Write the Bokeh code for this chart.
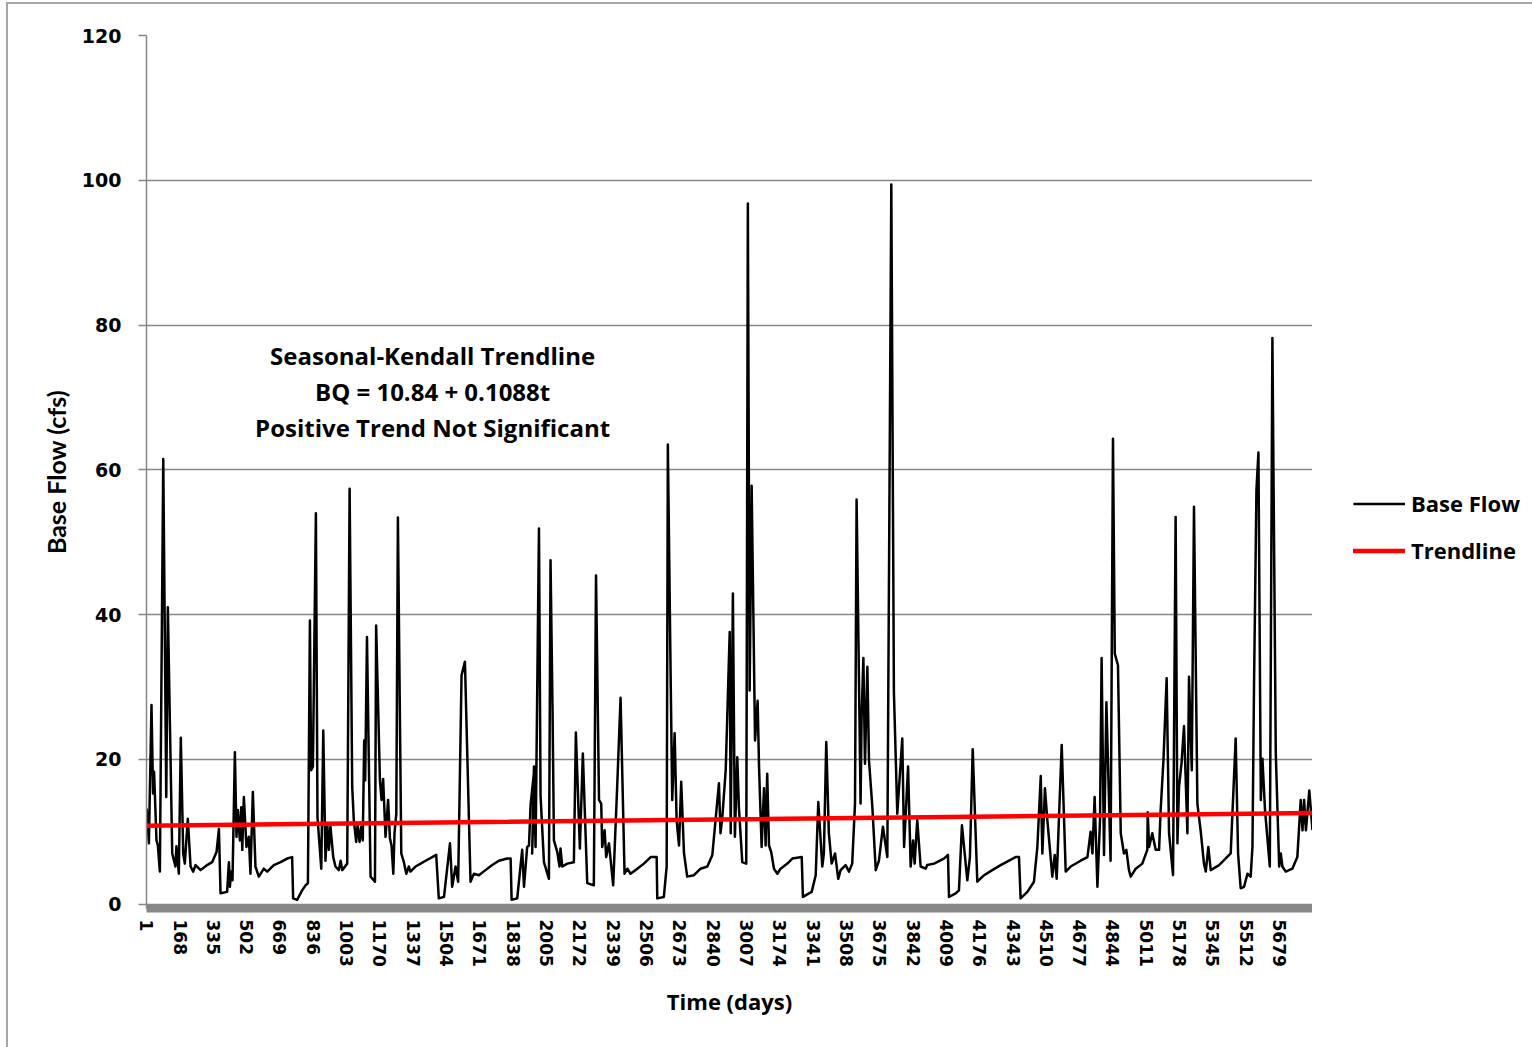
from bokeh.plotting import figure
from bokeh.layouts import row
from bokeh.models import Range1d, FixedTicker, Legend, LegendItem, Label
from bokeh.embed import file_html
from bokeh.resources import INLINE

# Daily base flow record (16 years), sampled at the turning points of the hydrograph
N_DAYS = 5844

flow_day = [
    1, 12, 25, 33, 38, 50, 57, 67, 84, 99, 107, 129, 145, 150, 162, 172, 184, 192, 207, 221,
    234, 246, 271, 304, 329, 351, 363, 371, 404, 413, 418, 424, 431, 443, 451, 458, 468, 475, 480, 488,
    501, 513, 521, 533, 546, 563, 588, 605, 638, 672, 705, 730, 735, 755, 780, 797, 809, 819, 825, 834,
    849, 857, 876, 886, 897, 906, 914, 922, 936, 947, 964, 973,
    981, 1006, 1018, 1031, 1039, 1051, 1058, 1068, 1076, 1084, 1091, 1096, 1105, 1123, 1145, 1151, 1170, 1178,
    1186, 1198, 1211, 1220, 1228, 1237, 1243, 1252, 1260, 1277, 1290, 1302, 1315, 1323, 1348, 1374, 1399, 1432,
    1452, 1465, 1491, 1521, 1532, 1549, 1562, 1579, 1596, 1624, 1641, 1666, 1699, 1733, 1766, 1808, 1825, 1830,
    1858, 1883, 1892, 1908, 1917, 1925, 1945,
    1933, 1942, 1950, 1967, 1975, 1992, 2017, 2025, 2035, 2042, 2059, 2070, 2075, 2084, 2109, 2142, 2152, 2172,
    2187, 2209, 2242, 2253, 2268, 2279, 2284, 2296, 2304, 2318, 2339, 2359, 2376, 2396, 2410, 2426, 2460, 2493,
    2527, 2557, 2560, 2593, 2607, 2613, 2627, 2635, 2647, 2657, 2669, 2680, 2694, 2710, 2744, 2777, 2811, 2836,
    2869, 2877, 2886, 2903, 2923,
    2928, 2939, 2949, 2961, 2969, 2986, 3006, 3014, 3023, 3033, 3050, 3063, 3070, 3083, 3095, 3103, 3111, 3120,
    3131, 3145, 3162, 3178, 3212, 3237, 3284, 3290, 3334, 3354, 3367, 3387, 3395, 3407, 3420, 3434, 3451, 3467,
    3479, 3504, 3521, 3537, 3551, 3559, 3579, 3584, 3593, 3601, 3613, 3621, 3638, 3655, 3671, 3691, 3713, 3733,
    3746, 3763, 3788, 3797, 3817, 3830, 3842, 3850, 3863, 3880, 3905,
    3913, 3947, 3997, 4017, 4022, 4056, 4072, 4087, 4114, 4127, 4141, 4164, 4198, 4239, 4281, 4356, 4373, 4381,
    4415, 4448, 4465, 4482, 4490, 4503, 4515, 4540, 4552, 4562, 4587, 4607, 4632, 4682, 4716, 4732, 4741, 4752,
    4766, 4779, 4787, 4799, 4811, 4832, 4844, 4853, 4869,
    4883, 4899, 4911, 4924, 4933, 4958, 4991, 5016, 5018, 5025, 5041, 5058, 5075, 5083, 5097, 5113, 5125, 5145,
    5158, 5167, 5175, 5188, 5200, 5217, 5225, 5239, 5250, 5267, 5284, 5300, 5309, 5322, 5334, 5376, 5434, 5459,
    5471, 5484, 5501, 5518, 5534, 5543, 5551, 5563, 5573, 5585, 5593, 5606, 5630, 5643, 5660, 5677, 5685, 5693,
    5710, 5743, 5768, 5785, 5794, 5802, 5811, 5828, 5844,
]

flow_cfs = [
    13.2, 8.4, 27.5, 15.3, 18.3, 8.8, 8.1, 4.5, 61.5, 14.8, 41.0, 7.0, 5.2, 8.0, 4.2, 23.0, 7.0, 5.6, 11.8, 5.2,
    4.5, 5.4, 4.7, 5.4, 5.8, 7.2, 10.4, 1.5, 1.7, 5.8, 2.4, 4.5, 3.3, 21.0, 9.3, 13.0, 8.8, 13.4, 7.5, 14.8,
    7.9, 9.3, 4.2, 15.5, 5.2, 3.8, 4.9, 4.5, 5.4, 5.8, 6.3, 6.5, 0.8, 0.6, 1.9, 2.6, 2.9, 39.2, 18.5, 19.0,
    54.0, 12.0, 4.9, 24.0, 6.0, 11.0, 7.5, 10.7, 6.5, 5.2, 4.7, 6.0,
    4.7, 5.6, 57.4, 16.2, 11.6, 8.6, 10.9, 8.6, 10.7, 8.8, 22.6, 17.1, 36.9, 3.8, 3.1, 38.5, 17.1, 14.4,
    17.3, 9.3, 14.4, 9.1, 8.1, 4.2, 9.8, 12.5, 53.4, 7.0, 5.8, 4.2, 5.2, 4.5, 5.2, 5.6, 6.0, 6.5,
    6.8, 0.8, 1.0, 8.4, 2.4, 5.2, 3.1, 31.6, 33.5, 3.1, 4.2, 4.0, 4.7, 5.4, 6.0, 6.3, 6.3, 0.6,
    0.8, 7.5, 2.4, 7.9, 8.1, 13.7, 19.0,
    7.0, 19.0, 7.9, 51.9, 15.0, 5.8, 3.5, 47.5, 27.0, 8.8, 7.2, 5.2, 7.7, 5.2, 5.6, 5.8, 23.7, 7.7,
    20.8, 2.9, 2.6, 45.4, 14.4, 13.9, 7.9, 10.2, 6.5, 8.4, 2.6, 16.2, 28.5, 4.2, 4.9, 4.2, 4.9, 5.6,
    6.5, 6.5, 0.8, 1.0, 5.2, 63.5, 31.4, 14.4, 23.6, 11.6, 8.1, 16.9, 7.0, 3.8, 4.0, 4.9, 5.2, 6.8,
    16.7, 9.8, 12.0, 18.5, 37.6,
    9.8, 42.9, 9.3, 20.3, 13.4, 5.8, 5.6, 96.8, 29.5, 57.8, 22.6, 28.1, 19.0, 7.9, 16.0, 8.1, 18.0, 8.1,
    7.2, 4.9, 4.2, 4.9, 5.6, 6.3, 6.5, 1.0, 1.7, 4.0, 14.1, 5.2, 7.0, 22.4, 9.8, 5.6, 7.0, 3.5,
    4.7, 5.4, 4.5, 5.6, 13.9, 55.9, 13.9, 25.9, 34.0, 19.4, 32.8, 19.9, 13.4, 4.7, 6.0, 10.7, 6.5, 99.4,
    29.3, 12.5, 22.9, 7.9, 19.0, 5.2, 8.8, 5.6, 11.6, 5.2, 4.9,
    5.4, 5.6, 6.3, 6.8, 1.0, 1.5, 1.9, 10.9, 3.3, 6.5, 21.4, 3.1, 4.0, 4.7, 5.4, 6.5, 6.5, 0.8,
    1.7, 3.1, 7.9, 17.7, 7.0, 16.0, 11.6, 3.8, 6.8, 3.5, 22.0, 4.5, 5.2, 6.0, 6.5, 10.0, 7.0, 14.8,
    2.4, 11.6, 34.0, 6.8, 27.9, 6.0, 64.3, 34.6, 33.0,
    9.8, 7.0, 7.5, 4.7, 3.8, 4.9, 5.6, 7.5, 12.7, 7.9, 9.8, 7.5, 7.5, 13.0, 19.9, 31.2, 9.8, 4.0,
    53.5, 8.4, 16.2, 19.6, 24.6, 9.8, 31.4, 18.5, 54.9, 13.9, 10.0, 5.6, 4.5, 7.9, 4.7, 5.4, 7.0, 22.9,
    7.0, 2.2, 2.4, 4.2, 3.8, 7.9, 30.5, 57.2, 62.4, 14.4, 20.1, 13.0, 5.2, 78.2, 20.8, 5.2, 7.0, 5.2,
    4.5, 4.9, 6.5, 14.4, 10.2, 14.4, 10.2, 15.7, 10.2,
]

# Seasonal-Kendall trend: BQ = intercept + slope * t  (t in years)
trend_intercept = 10.84
trend_slope = 0.1088
DAYS_PER_YEAR = 365.25

tick_days = [1, 168, 335, 502, 669, 836, 1003, 1170, 1337, 1504, 1671, 1838, 2005, 2172, 2339,
             2506, 2673, 2840, 3007, 3174, 3341, 3508, 3675, 3842, 4009, 4176, 4343, 4510, 4677,
             4844, 5011, 5178, 5345, 5512, 5679]
flow_ticks = [0, 20, 40, 60, 80, 100, 120]

annotation_lines = ["Seasonal-Kendall Trendline",
                    "BQ = 10.84 + 0.1088t",
                    "Positive Trend Not Significant"]
series_names = ["Base Flow", "Trendline"]

trend_day = [1, N_DAYS]
trend_cfs = [trend_intercept + trend_slope * d / DAYS_PER_YEAR for d in trend_day]

GRID = "#878787"
FLOW_STYLE = dict(line_color="black", line_width=2.5, line_join="round")
TREND_STYLE = dict(line_color="#ff0000", line_width=4.5, line_cap="round")

p = figure(width=1304, height=1043, output_backend="svg", toolbar_location=None,
           x_range=Range1d(0, N_DAYS), y_range=Range1d(-0.6, 120),
           min_border_left=138, min_border_right=0, min_border_top=31, min_border_bottom=139)
p.outline_line_color = None
p.background_fill_color = "white"
p.border_fill_color = "white"

# horizontal axis: thick grey band, rotated day labels
xa = p.xaxis[0]
xa.ticker = FixedTicker(ticks=tick_days)
xa.major_label_orientation = "vertical"
xa.axis_line_color = GRID
xa.axis_line_width = 8
xa.major_tick_line_color = None
xa.major_tick_out = 0
xa.major_tick_in = 0
xa.minor_tick_line_color = None
xa.major_label_standoff = 11
xa.major_label_text_font = "DejaVu Sans"
xa.major_label_text_font_style = "bold"
xa.major_label_text_font_size = "17px"
xa.major_label_text_color = "black"
xa.axis_label = "Time (days)"
xa.axis_label_text_font = "Open Sans"
xa.axis_label_text_font_style = "bold"
xa.axis_label_text_font_size = "22px"
xa.axis_label_text_color = "black"
xa.axis_label_standoff = 16
p.xgrid.grid_line_color = None

ya = p.yaxis[0]
ya.ticker = FixedTicker(ticks=flow_ticks)
ya.axis_line_color = GRID
ya.axis_line_width = 1.5
ya.major_tick_line_color = GRID
ya.major_tick_line_width = 1.5
ya.major_tick_out = 8
ya.major_tick_in = 0
ya.minor_tick_line_color = None
ya.major_label_standoff = 17
ya.major_label_text_font = "DejaVu Sans"
ya.major_label_text_font_style = "bold"
ya.major_label_text_font_size = "19px"
ya.major_label_text_color = "black"
ya.axis_label = "Base Flow (cfs)"
ya.axis_label_text_font = "Lato"
ya.axis_label_text_font_style = "bold"
ya.axis_label_text_font_size = "25px"
ya.axis_label_text_color = "black"
ya.axis_label_standoff = 8
p.ygrid.ticker = FixedTicker(ticks=flow_ticks)
p.ygrid.grid_line_color = GRID
p.ygrid.grid_line_width = 1.6

p.line(flow_day, flow_cfs, **FLOW_STYLE)
p.line(trend_day, trend_cfs, **TREND_STYLE)

# equation block
for text, yv in zip(annotation_lines, [75.8, 70.8, 65.9]):
    p.add_layout(Label(x=1434, y=yv, text=text, text_align="center", text_baseline="middle",
                       text_font="Open Sans", text_font_style="bold", text_font_size="24px",
                       text_color="black"))

# legend panel to the right of the plot area; its own ranges keep the key
# renderers out of view so only their legend swatches show
lg = figure(width=220, height=1043, output_backend="svg", toolbar_location=None,
            x_range=Range1d(-2, -1), y_range=Range1d(-2, -1),
            x_axis_location=None, y_axis_location=None,
            min_border_left=0, min_border_right=0, min_border_top=0, min_border_bottom=0)
lg.grid.visible = False
lg.outline_line_color = None
lg.background_fill_color = "white"
lg.border_fill_color = "white"
key_flow = lg.line(flow_day, flow_cfs, **FLOW_STYLE)
key_trend = lg.line(trend_day, trend_cfs, **TREND_STYLE)

legend = Legend(items=[LegendItem(label=series_names[0], renderers=[key_flow]),
                       LegendItem(label=series_names[1], renderers=[key_trend])],
                location=(41, 343), orientation="vertical",
                glyph_width=52, glyph_height=27, label_height=27, label_standoff=6, spacing=17,
                padding=0, margin=0, border_line_color=None, background_fill_alpha=0,
                label_text_font="Open Sans", label_text_font_style="bold",
                label_text_font_size="22px", label_text_color="black")
lg.add_layout(legend)

layout = row(p, lg)
layout.styles = {"margin-left": "6px", "margin-top": "2px",
                 "border-left": "2px solid #a6a6a6", "border-top": "2px solid #a6a6a6"}

open("out.html", "w").write(file_html(layout, INLINE))
